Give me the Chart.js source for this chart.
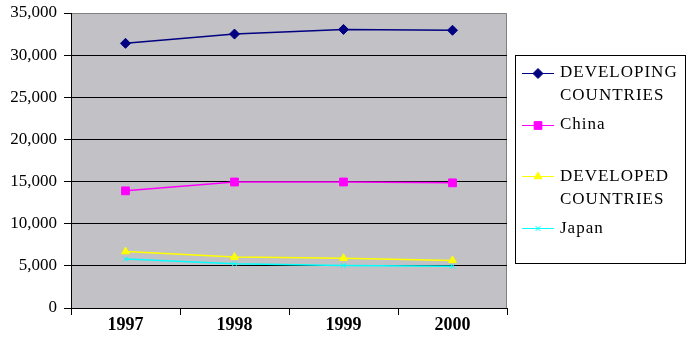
<!DOCTYPE html>
<html>
<head>
<meta charset="utf-8">
<script src="https://cdn.jsdelivr.net/npm/chart.js@4/dist/chart.umd.min.js"></script>
<style>
  html, body { margin: 0; padding: 0; background: #ffffff; }
  #wrap { width: 690px; height: 347px; }
</style>
</head>
<body>
<div id="wrap"><canvas id="myChart" width="690" height="347"></canvas></div>
<script>
// chart data
const years = ["1997", "1998", "1999", "2000"];
const developing = [31400, 32500, 33050, 32950];
const china = [13900, 14950, 14950, 14850];
const developed = [6700, 6050, 5900, 5650];
const japan = [5800, 5250, 5050, 4950];
const seriesNames = [["DEVELOPING", "COUNTRIES"], ["China"], ["DEVELOPED", "COUNTRIES"], ["Japan"]];
const yTicks = [0, 5000, 10000, 15000, 20000, 25000, 30000, 35000];

const font = "'Liberation Serif', 'Times New Roman', serif";

// gray plot area + gray top/right frame
const plotBg = {
  id: "plotBg",
  beforeDraw(chart) {
    const { ctx, chartArea: a } = chart;
    ctx.save();
    ctx.fillStyle = "#C2C1C5";
    ctx.fillRect(a.left, a.top, a.right - a.left, a.bottom - a.top);
    ctx.strokeStyle = "#808080";
    ctx.lineWidth = 1;
    ctx.beginPath();
    ctx.moveTo(a.left, a.top + 0.5);
    ctx.lineTo(a.right - 0.5, a.top + 0.5);
    ctx.lineTo(a.right - 0.5, a.bottom);
    ctx.stroke();
    ctx.restore();
  }
};

// boxed legend with two-line labels, drawn like the old spreadsheet one
const boxLegend = {
  id: "boxLegend",
  afterDraw(chart) {
    const ctx = chart.ctx;
    ctx.save();
    ctx.strokeStyle = "#000000";
    ctx.lineWidth = 1;
    ctx.strokeRect(515.5, 55.5, 170, 208);
    ctx.font = "17px " + font;
    ctx.letterSpacing = "1px";
    ctx.textBaseline = "middle";
    ctx.fillStyle = "#000000";
    chart.data.datasets.forEach((ds, i) => {
      const y = 73 + i * 51.7;
      ctx.strokeStyle = ds.borderColor;
      ctx.lineWidth = 1;
      ctx.beginPath();
      ctx.moveTo(522, Math.round(y) + 0.5);
      ctx.lineTo(554, Math.round(y) + 0.5);
      ctx.stroke();
      ctx.fillStyle = ds.pointBackgroundColor;
      ctx.strokeStyle = ds.pointBorderColor;
      Chart.helpers.drawPoint(ctx, {
        pointStyle: ds.pointStyle,
        radius: ds.pointRadius,
        rotation: 0,
        borderWidth: ds.pointBorderWidth
      }, 538, Math.round(y) + 0.5);
      ctx.fillStyle = "#000000";
      seriesNames[i].forEach((line, j) => {
        ctx.fillText(line, 560, y + j * 23);
      });
    });
    ctx.restore();
  }
};

function series(label, data, color, style, radius) {
  return {
    label: label,
    data: data,
    borderColor: color,
    backgroundColor: color,
    borderWidth: 1.5,
    pointStyle: style,
    pointRadius: radius,
    pointHoverRadius: radius,
    pointBackgroundColor: color,
    pointBorderColor: color,
    pointBorderWidth: 1,
    tension: 0,
    fill: false
  };
}

new Chart(document.getElementById("myChart"), {
  type: "line",
  data: {
    labels: years,
    datasets: [
      series(seriesNames[0].join(" "), developing, "#000080", "rectRot", 5),
      series(seriesNames[1].join(" "), china, "#FF00FF", "rect", 5.5),
      series(seriesNames[2].join(" "), developed, "#FFFF00", "triangle", 4.5),
      series(seriesNames[3].join(" "), japan, "#00FFFF", "crossRot", 3.5)
    ]
  },
  options: {
    responsive: false,
    animation: false,
    events: [],
    layout: { padding: { top: 13, right: 183, left: 0, bottom: 0 } },
    plugins: {
      legend: { display: false },
      tooltip: { enabled: false }
    },
    scales: {
      x: {
        offset: true,
        afterFit(scale) {
          scale.height = 39;
          scale.paddingLeft = 0;
          scale.paddingRight = 0;
        },
        grid: {
          offset: true,
          drawOnChartArea: false,
          drawTicks: true,
          tickLength: 7,
          color: "#000000"
        },
        border: { color: "#000000" },
        ticks: {
          color: "#000000",
          padding: 0,
          font: { family: font, size: 18, weight: "bold" }
        }
      },
      y: {
        min: 0,
        max: 35000,
        afterFit(scale) {
          scale.width = 71;
          scale.paddingTop = 0;
          scale.paddingBottom = 0;
        },
        afterBuildTicks(scale) { scale.ticks = yTicks.map(v => ({ value: v })); },
        grid: {
          color: ctx => (ctx.tick && ctx.tick.value === 35000 ? "rgba(0,0,0,0)" : "#000000"),
          tickColor: "#000000",
          tickLength: 7,
          drawTicks: true
        },
        border: { color: "#000000" },
        ticks: {
          color: "#000000",
          padding: 7,
          font: { family: font, size: 17 },
          callback: v => v.toLocaleString("en-US")
        }
      }
    }
  },
  plugins: [plotBg, boxLegend]
});
</script>
</body>
</html>
